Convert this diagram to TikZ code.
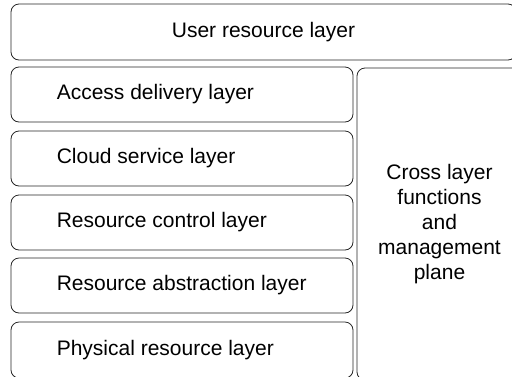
\documentclass[tikz,border=0pt]{standalone}
\usepackage{fontspec}
\setmainfont{Liberation Sans}
\usepackage{tikz}

\tikzset{
  layer/.style={draw=black!85,line width=0.8pt,rounded corners=8pt,minimum height=55pt,inner sep=0pt},
  layertext/.style={anchor=west,inner sep=0pt,font=\fontsize{21}{25}\selectfont}
}

\begin{document}
\begin{tikzpicture}[x=1pt,y=-1pt]
\useasboundingbox (0,0) rectangle (512,376);
% top layer
\node[layer,minimum width=505pt,minimum height=56pt,font=\fontsize{21}{25}\selectfont] (user) at (263.5,32) {User resource layer};
% stacked layers
\node[layer,minimum width=342pt] (access) at (182,94.5) {};
\node[layertext] (accesstext) at ([xshift=46pt]access.west) {Access delivery layer};
\node[layer,minimum width=342pt] (cloud) at (182,158.5) {};
\node[layertext] (cloudtext) at ([xshift=46pt]cloud.west) {Cloud service layer};
\node[layer,minimum width=342pt] (control) at (182,222.5) {};
\node[layertext] (controltext) at ([xshift=46pt]control.west) {Resource control layer};
\node[layer,minimum width=342pt] (abstraction) at (182,285.5) {};
\node[layertext] (abstractiontext) at ([xshift=46pt]abstraction.west) {Resource abstraction layer};
\node[layer,minimum width=342pt,minimum height=56pt] (physical) at (182,350) {};
\node[layertext] (physicaltext) at ([xshift=46pt]physical.west) {Physical resource layer};
% cross layer plane
\node[layer,minimum width=165pt,minimum height=312pt,align=center,font=\fontsize{21}{25}\selectfont] (cross) at (439.5,224)
  {Cross layer\\functions\\and\\management\\plane};
\end{tikzpicture}
\end{document}
